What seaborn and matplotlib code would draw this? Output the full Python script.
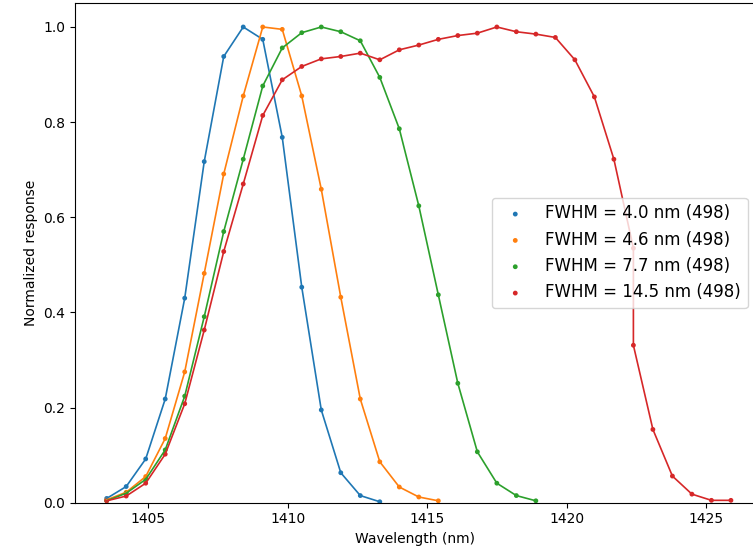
import matplotlib
matplotlib.use("Agg")
import matplotlib.pyplot as plt
import seaborn as sns
import pandas as pd

# Sampled wavelengths (nm)
wl = [1403.5, 1404.2, 1404.9, 1405.6, 1406.3, 1407.0, 1407.7, 1408.4, 1409.1,
      1409.8, 1410.5, 1411.2, 1411.9, 1412.6, 1413.3, 1414.0, 1414.7, 1415.4,
      1416.1, 1416.8, 1417.5, 1418.2, 1418.9, 1419.6, 1420.3, 1421.0, 1421.7,
      1422.4, 1422.4, 1423.1, 1423.8, 1424.5, 1425.2, 1425.9]

# Normalized responses per filter
resp_40 = [0.009, 0.034, 0.092, 0.218, 0.430, 0.717, 0.938, 1.000, 0.974,
           0.768, 0.453, 0.195, 0.063, 0.015, 0.002]
resp_46 = [0.006, 0.022, 0.055, 0.135, 0.275, 0.482, 0.691, 0.855, 1.000,
           0.995, 0.855, 0.659, 0.432, 0.218, 0.086, 0.033, 0.012, 0.004]
resp_77 = [0.004, 0.020, 0.049, 0.111, 0.224, 0.391, 0.570, 0.722, 0.876,
           0.956, 0.988, 1.000, 0.990, 0.971, 0.894, 0.786, 0.624, 0.437,
           0.251, 0.107, 0.041, 0.015, 0.004]
resp_145 = [0.004, 0.014, 0.041, 0.102, 0.208, 0.363, 0.528, 0.670, 0.814,
            0.889, 0.917, 0.933, 0.938, 0.945, 0.931, 0.952, 0.962, 0.974,
            0.982, 0.987, 1.000, 0.990, 0.985, 0.978, 0.931, 0.853, 0.722,
            0.535, 0.331, 0.154, 0.056, 0.018, 0.005, 0.005]

labels = ["FWHM = 4.0 nm (498)", "FWHM = 4.6 nm (498)",
          "FWHM = 7.7 nm (498)", "FWHM = 14.5 nm (498)"]
series = [resp_40, resp_46, resp_77, resp_145]
colors = sns.color_palette("tab10", 4)

fig, ax = plt.subplots(figsize=(7.53, 5.6), dpi=100)
# axes runs slightly past the right edge, as in the cropped original
fig.subplots_adjust(left=0.0995, right=1.004, bottom=0.1023, top=0.9943)

for vals, lab, col in zip(series, labels, colors):
    df = pd.DataFrame({"wl": wl[:len(vals)], "resp": vals})
    sns.lineplot(data=df, x="wl", y="resp", ax=ax, color=col, linewidth=1.2,
                 estimator=None, sort=False)
    sns.scatterplot(data=df, x="wl", y="resp", ax=ax, color=col, s=12,
                    linewidth=0, edgecolor="none", label=lab)

ax.set_xlim(1402.36, 1426.8)
ax.set_ylim(0, 1.05)
ax.set_xlabel("Wavelength (nm)")
ax.set_ylabel("Normalized response")
ax.legend(loc="center right", fontsize=12)

fig.savefig("out.png", dpi=100)
